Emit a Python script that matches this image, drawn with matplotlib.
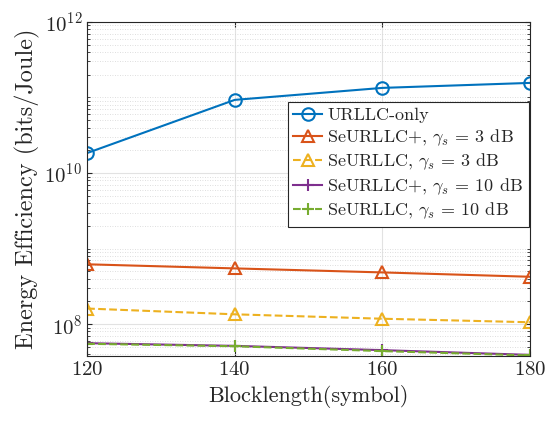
import matplotlib
matplotlib.use("Agg")
import matplotlib.pyplot as plt
from matplotlib.ticker import LogLocator, NullFormatter

plt.rcParams['font.family'] = 'serif'
plt.rcParams['font.serif'] = ['cmr10', 'DejaVu Serif']
plt.rcParams['mathtext.fontset'] = 'cm'
plt.rcParams['axes.formatter.use_mathtext'] = True

# donnees
blocklength = [120, 140, 160, 180]
urllc_only = [1.84e10, 9.3e10, 1.34e11, 1.56e11]
seurllc_plus_3db = [6.2e8, 5.47e8, 4.84e8, 4.24e8]
seurllc_3db = [1.61e8, 1.35e8, 1.18e8, 1.06e8]
seurllc_plus_10db = [5.6e7, 5.16e7, 4.53e7, 3.92e7]
seurllc_10db = [5.5e7, 5.1e7, 4.4e7, 3.85e7]

fig = plt.figure(figsize=(5.48, 4.22), dpi=100)
ax = fig.add_axes([0.159, 0.156, 0.808, 0.792])

ax.plot(blocklength, urllc_only, '-o', color='#0072BD', lw=1.5, ms=9, mfc='none', mew=1.5, label='URLLC-only')
ax.plot(blocklength, seurllc_plus_3db, '-^', color='#D95319', lw=1.5, ms=9, mfc='none', mew=1.5, label=r'SeURLLC+, $\gamma_s$ = 3 dB')
ax.plot(blocklength, seurllc_3db, '--^', color='#EDB120', lw=1.5, ms=9, mfc='none', mew=1.5, label=r'SeURLLC, $\gamma_s$ = 3 dB')
ax.plot(blocklength, seurllc_plus_10db, '-+', color='#7E2F8E', lw=1.5, ms=9, mew=1.5, label=r'SeURLLC+, $\gamma_s$ = 10 dB')
ax.plot(blocklength, seurllc_10db, '--+', color='#77AC30', lw=1.5, ms=9, mew=1.5, label=r'SeURLLC, $\gamma_s$ = 10 dB')

ax.set_yscale('log')
ax.set_xlim(120, 180)
ax.set_ylim(3.77e7, 1e12)
ax.set_xticks([120, 140, 160, 180])
ax.yaxis.set_major_locator(LogLocator(base=100))
ax.yaxis.set_minor_locator(LogLocator(base=10, subs=range(1, 10), numticks=50))
ax.yaxis.set_minor_formatter(NullFormatter())

ax.grid(True, which='major', color='#e2e2e2', lw=0.8)
ax.grid(True, which='minor', axis='y', color='#d4d4d4', lw=0.6, linestyle=(0, (1, 2)))
ax.tick_params(which='both', direction='in', top=True, right=True, labelsize=15, colors='#262626')
ax.tick_params(which='minor', length=2.5)
for s in ax.spines.values():
    s.set_color('#262626')
    s.set_linewidth(0.8)

ax.set_xlabel('Blocklength(symbol)', fontsize=16, color='#262626')
ax.set_ylabel('Energy Efficiency (bits/Joule)', fontsize=17.5, color='#262626', labelpad=3)

leg = ax.legend(loc='upper right', bbox_to_anchor=(0.997, 0.76), fontsize=13, fancybox=False,
                edgecolor='#262626', framealpha=1, handlelength=1.6, handletextpad=0.3,
                borderpad=0.3, labelspacing=0.22, borderaxespad=0)
leg.get_frame().set_linewidth(0.8)
for t in leg.get_texts():
    t.set_color('#262626')

fig.savefig('out.png', dpi=100)
